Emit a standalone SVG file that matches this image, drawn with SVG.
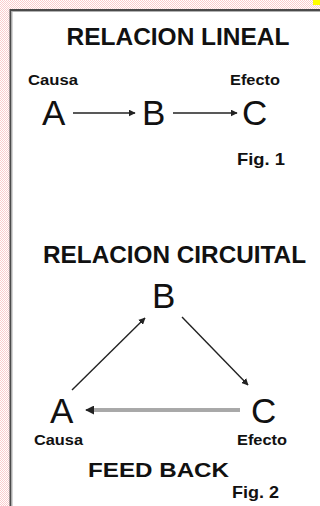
<svg xmlns="http://www.w3.org/2000/svg" width="320" height="506" viewBox="0 0 320 506">
<defs>
<pattern id="chk" width="2" height="2" patternUnits="userSpaceOnUse">
<rect width="2" height="2" fill="#ffffff"/>
<rect width="1" height="1" fill="#fbcdcd"/>
<rect x="1" y="1" width="1" height="1" fill="#fbcdcd"/>
</pattern>
<marker id="ah" viewBox="0 0 10 10" refX="9" refY="5" markerWidth="7" markerHeight="7" markerUnits="userSpaceOnUse" orient="auto">
<path d="M0,0 L10,5 L0,10 z" fill="#222"/>
</marker>
<marker id="ahb" viewBox="0 0 10 10" refX="9" refY="5" markerWidth="9" markerHeight="9" markerUnits="userSpaceOnUse" orient="auto">
<path d="M0,0 L10,5 L0,10 z" fill="#222"/>
</marker>
</defs>
<style>
.t{font-family:"Liberation Sans",Arial,sans-serif;fill:#111}
.h{font-weight:bold;font-size:24px}
.s{font-weight:bold;font-size:14px}
.f{font-weight:bold;font-size:17px}
.n{font-size:35px}
.c{stroke:#222;stroke-width:1.4;fill:none}
</style>
<rect width="320" height="506" fill="url(#chk)"/>
<rect x="313" y="0" width="7" height="5" fill="#ffff00"/>
<rect x="10" y="10" width="310" height="496" fill="#ffffff"/>
<path d="M10.5,506 V10 H320" stroke="#4a4a4a" stroke-width="2" fill="none"/>
<path d="M12,506 V11.5 H320" stroke="#b0b0b0" stroke-width="1" fill="none"/>

<g id="title1"><text class="t h" x="178" y="45" text-anchor="middle" textLength="223" lengthAdjust="spacingAndGlyphs">RELACION LINEAL</text></g>
<g id="label-causa1"><text class="t s" x="28" y="85" textLength="50" lengthAdjust="spacingAndGlyphs">Causa</text></g>
<g id="label-efecto1"><text class="t s" x="230" y="85" textLength="50" lengthAdjust="spacingAndGlyphs">Efecto</text></g>
<g id="nodeA1"><text class="t n" x="42" y="125">A</text></g>
<g id="nodeB1"><text class="t n" x="142" y="125">B</text></g>
<g id="nodeC1"><text class="t n" x="242" y="125">C</text></g>
<g id="fig1"><text class="t f" x="237" y="165" textLength="48" lengthAdjust="spacingAndGlyphs">Fig. 1</text></g>

<g id="title2"><text class="t h" x="174.5" y="263" text-anchor="middle" textLength="263" lengthAdjust="spacingAndGlyphs">RELACION CIRCUITAL</text></g>
<g id="nodeB2"><text class="t n" x="152" y="308">B</text></g>
<g id="nodeA2"><text class="t n" x="50" y="423">A</text></g>
<g id="nodeC2"><text class="t n" x="251" y="423">C</text></g>
<g id="label-causa2"><text class="t s" x="34" y="445" textLength="49" lengthAdjust="spacingAndGlyphs">Causa</text></g>
<g id="label-efecto2"><text class="t s" x="237" y="445" textLength="50" lengthAdjust="spacingAndGlyphs">Efecto</text></g>
<g id="feedback"><text class="t h" x="88" y="477" style="font-size:21px" textLength="141" lengthAdjust="spacingAndGlyphs">FEED BACK</text></g>
<g id="fig2"><text class="t f" x="232" y="498" textLength="47" lengthAdjust="spacingAndGlyphs">Fig. 2</text></g>

<g id="connectors">
<line class="c" x1="73" y1="113" x2="135" y2="113" marker-end="url(#ah)"/>
<line class="c" x1="173" y1="113" x2="237" y2="113" marker-end="url(#ah)"/>
<line class="c" x1="72" y1="390" x2="145" y2="318" marker-end="url(#ah)"/>
<line class="c" x1="182" y1="317" x2="248" y2="385" marker-end="url(#ah)"/>
<line x1="240" y1="410" x2="92" y2="410" stroke="#555" stroke-width="3.2"/>
<line x1="240" y1="410" x2="92" y2="410" stroke="#c4c4c4" stroke-width="1.4"/>
<line x1="94" y1="410" x2="86" y2="410" class="c" marker-end="url(#ahb)"/>
</g>
</svg>
